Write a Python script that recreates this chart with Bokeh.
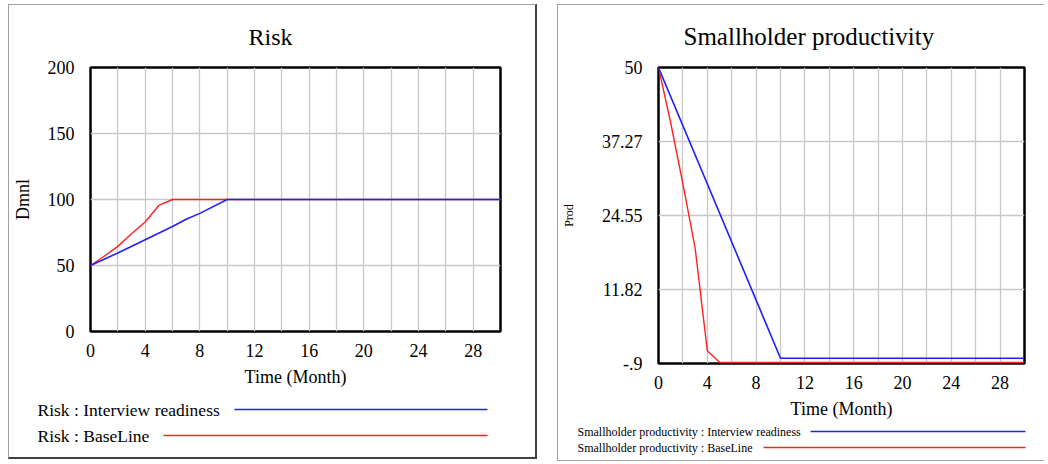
from bokeh.plotting import figure
from bokeh.models import Range1d, FixedTicker
from bokeh.layouts import row, column
from bokeh.core.properties import value
from bokeh.embed import file_html
from bokeh.resources import INLINE

# ---------------- data ----------------
risk_ir_t = [0, 2, 4, 6, 7, 8, 10, 30]
risk_ir_v = [50, 59.5, 69.5, 79.5, 85, 89.5, 100, 100]
risk_bl_t = [0, 1, 2, 3, 4, 5, 6, 30]
risk_bl_v = [50, 57, 64.5, 74, 83, 95.5, 100, 100]

prod_ir_t = [0, 10, 30]
prod_ir_v = [50, 0, 0]
prod_bl_t = [0, 1, 2, 3, 4, 5, 30]
prod_bl_v = [50, 40.5, 30, 19, 1.3, -0.7, -0.7]

x_ticks = [0, 4, 8, 12, 16, 20, 24, 28]
x_grid = [2, 4, 6, 8, 10, 12, 14, 16, 18, 20, 22, 24, 26, 28]

risk_y_ticks = [0, 50, 100, 150, 200]
risk_y_grid = [50, 100, 150]
prod_y_ticks = [-0.9, 11.825, 24.55, 37.275, 50]
prod_y_labels = ["-.9", "11.82", "24.55", "37.27", "50"]
prod_y_grid = [11.825, 24.55, 37.275]

risk_legend = ["Risk : Interview readiness", "Risk : BaseLine"]
prod_legend = ["Smallholder productivity : Interview readiness",
               "Smallholder productivity : BaseLine"]

BLUE = "#2020ff"
RED = "#ff2020"
FONT = "Liberation Serif"
X_RANGE = (0, 30)
GRAY = "1px solid #a0a0a0"
DARK = "2px solid #404040"


def make_main(title, title_size, t_off, width, height, fl, ft, fr, fb,
              yrange, yticks, ylabels, ygrid, ylabel, ylabel_size,
              ylabel_standoff, series, styles):
    p = figure(width=width, height=height, output_backend="svg",
               toolbar_location=None,
               x_range=Range1d(*X_RANGE), y_range=Range1d(*yrange),
               min_border_left=fl, min_border_top=ft,
               min_border_right=fr, min_border_bottom=fb)
    p.styles = styles
    p.background_fill_color = "white"
    p.border_fill_color = "white"
    p.outline_line_color = "black"
    p.outline_line_width = 2.5

    p.title.text = title
    p.title.text_font = FONT
    p.title.text_font_size = title_size
    p.title.text_font_style = "normal"
    p.title.text_color = "black"
    p.title.align = "left"
    p.title.vertical_align = "middle"
    p.title.offset = t_off
    p.title.standoff = 33

    xa = p.xaxis[0]
    xa.ticker = FixedTicker(ticks=x_ticks)
    xa.axis_label = "Time (Month)"
    ya = p.yaxis[0]
    ya.ticker = FixedTicker(ticks=yticks)
    ya.major_label_overrides = {t: l for t, l in zip(yticks, ylabels)}
    ya.axis_label = ylabel
    for ax in (xa, ya):
        ax.axis_line_color = None
        ax.major_tick_out = 0
        ax.major_tick_in = 0
        ax.minor_tick_out = 0
        ax.minor_tick_in = 0
        ax.major_label_text_font = FONT
        ax.major_label_text_font_size = "18px"
        ax.major_label_text_color = "black"
        ax.axis_label_text_font = FONT
        ax.axis_label_text_font_style = "normal"
        ax.axis_label_text_color = "black"
    xa.axis_label_text_font_size = "18px"
    xa.major_label_standoff = 12
    xa.axis_label_standoff = 7
    ya.axis_label_text_font_size = ylabel_size
    ya.major_label_standoff = 16
    ya.axis_label_standoff = ylabel_standoff

    p.xgrid.ticker = FixedTicker(ticks=x_grid)
    p.ygrid.ticker = FixedTicker(ticks=ygrid)
    for g in (p.xgrid, p.ygrid):
        g.grid_line_color = "#c8c8c8"
        g.grid_line_width = 1.3

    # baseline drawn first, interview readiness on top
    (t_ir, v_ir), (t_bl, v_bl) = series
    p.line(t_bl, v_bl, line_color=RED, line_width=1.4)
    p.line(t_ir, v_ir, line_color=BLUE, line_width=1.6)
    return p


def make_legend(width, height, texts, font_size, text_x, ys, line_x0,
                line_x1, styles):
    lg = figure(width=width, height=height, output_backend="svg",
                toolbar_location=None, x_axis_type=None, y_axis_type=None,
                x_range=Range1d(0, width), y_range=Range1d(height, 0),
                min_border=0)
    lg.styles = styles
    lg.outline_line_color = None
    lg.grid.visible = False
    lg.background_fill_color = "white"
    lg.border_fill_color = "white"
    lg.text(x=[text_x] * len(texts), y=ys, text=texts,
            text_font=value(FONT), text_font_size=value(font_size),
            text_baseline="middle", text_color="black")
    lg.segment(x0=line_x0, y0=ys, x1=[line_x1] * len(texts), y1=ys,
               line_color=[BLUE, RED], line_width=1.5)
    return lg


m1 = make_main("Risk", "24px", 158, 529, 386, 80, 62, 38, 60, (0, 200),
               risk_y_ticks, [str(t) for t in risk_y_ticks], risk_y_grid,
               "Dmnl", "18px", 12,
               [(risk_ir_t, risk_ir_v), (risk_bl_t, risk_bl_v)],
               {"border-left": GRAY, "border-top": GRAY,
                "border-right": DARK})
l1 = make_legend(529, 69, risk_legend, "17.5px", 28, [19, 45], [225, 154],
                 478, {"border-left": GRAY, "border-right": DARK,
                       "border-bottom": DARK})

m2 = make_main("Smallholder productivity", "25px", 25, 487, 418, 94, 62, 21,
               60, (-0.9, 50), prod_y_ticks, prod_y_labels, prod_y_grid,
               "Prod", "12px", 23,
               [(prod_ir_t, prod_ir_v), (prod_bl_t, prod_bl_v)],
               {"border-left": GRAY, "border-top": GRAY})
l2 = make_legend(487, 39, prod_legend, "12px", 19, [9, 25], [252, 205],
                 467, {"border-left": GRAY, "border-bottom": GRAY})

c1 = column(row(m1), row(l1), spacing=0)
c1.margin = (4, 0, 0, 8)
c2 = column(row(m2), row(l2), spacing=0)
c2.margin = (4, 0, 0, 0)
layout = row(c1, c2, spacing=20)

open("out.html", "w").write(file_html(layout, INLINE))
